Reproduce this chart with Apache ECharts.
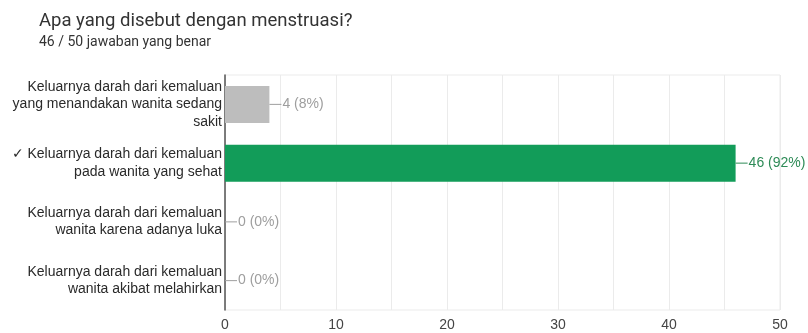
<!DOCTYPE html>
<html>
<head>
<meta charset="utf-8">
<script src="https://cdn.jsdelivr.net/npm/echarts@6/dist/echarts.min.js"></script>
<style>
  html, body { margin: 0; padding: 0; background: #fff; }
  #chart { width: 808px; height: 333px; }
</style>
</head>
<body>
<div id="chart"></div>
<script>
// question + answer data
const questionTitle = 'Apa yang disebut dengan menstruasi?'
const scoreText = '46 / 50 jawaban yang benar'
const categories = [
  'Keluarnya darah dari kemaluan\nyang menandakan wanita sedang\nsakit',
  '✓ Keluarnya darah dari kemaluan\npada wanita yang sehat',
  'Keluarnya darah dari kemaluan\nwanita karena adanya luka',
  'Keluarnya darah dari kemaluan\nwanita akibat melahirkan'
]
const counts = [4, 46, 0, 0]
const percents = [8, 92, 0, 0]
const isCorrect = [false, true, false, false]

const barGray = '#bdbdbd'
const barGreen = '#129c59'
const labelGray = '#9e9e9e'
const labelGreen = '#2e8b57'

const seriesData = counts.map((v, i) => {
  const ok = isCorrect[i]
  const lineColor = ok ? labelGreen : labelGray
  return {
    value: v,
    itemStyle: { color: ok ? barGreen : barGray },
    label: {
      color: ok ? labelGreen : labelGray,
      formatter: `{line|}{val|${v} (${percents[i]}%)}`,
      rich: {
        line: { width: 12, height: 1, lineHeight: 1, backgroundColor: lineColor },
        val: { color: ok ? labelGreen : labelGray, fontSize: 14, padding: [0, 0, 0, 1] }
      }
    }
  }
})

const chart = echarts.init(document.getElementById('chart'), null, { renderer: 'canvas' })

chart.setOption({
  backgroundColor: '#fff',
  animation: false,
  textStyle: { fontFamily: '"Liberation Sans", Arial, sans-serif' },
  title: {
    text: questionTitle,
    subtext: scoreText,
    left: 34,
    top: 7,
    itemGap: 4,
    textStyle: {
      fontFamily: 'Roboto, sans-serif',
      fontSize: 18.5,
      fontWeight: 'normal',
      color: '#333'
    },
    subtextStyle: {
      fontFamily: 'Roboto, sans-serif',
      fontSize: 14,
      color: '#333'
    }
  },
  grid: {
    left: 225,
    right: 28,
    top: 75,
    bottom: 23,
    show: true,
    borderColor: '#ebebeb',
    borderWidth: 1,
    containLabel: false
  },
  xAxis: {
    type: 'value',
    min: 0,
    max: 50,
    interval: 5,
    axisLine: { show: false },
    axisTick: { show: false },
    axisLabel: {
      color: '#444',
      fontSize: 14,
      margin: 8,
      formatter: (v) => (v % 10 === 0 ? String(v) : '')
    },
    splitLine: { lineStyle: { color: '#ebebeb', width: 1 } }
  },
  yAxis: {
    type: 'category',
    inverse: true,
    data: categories,
    axisLine: { show: true, lineStyle: { color: '#555', width: 1.5 } },
    axisTick: { show: false },
    splitLine: { show: false },
    axisLabel: {
      color: '#2a2a2a',
      fontSize: 14,
      lineHeight: 17.5,
      margin: 3,
      align: 'right'
    }
  },
  series: [{
    type: 'bar',
    data: seriesData,
    barWidth: 37,
    label: {
      show: true,
      position: 'right',
      distance: 0,
      fontSize: 14
    }
  }]
})
</script>
</body>
</html>
